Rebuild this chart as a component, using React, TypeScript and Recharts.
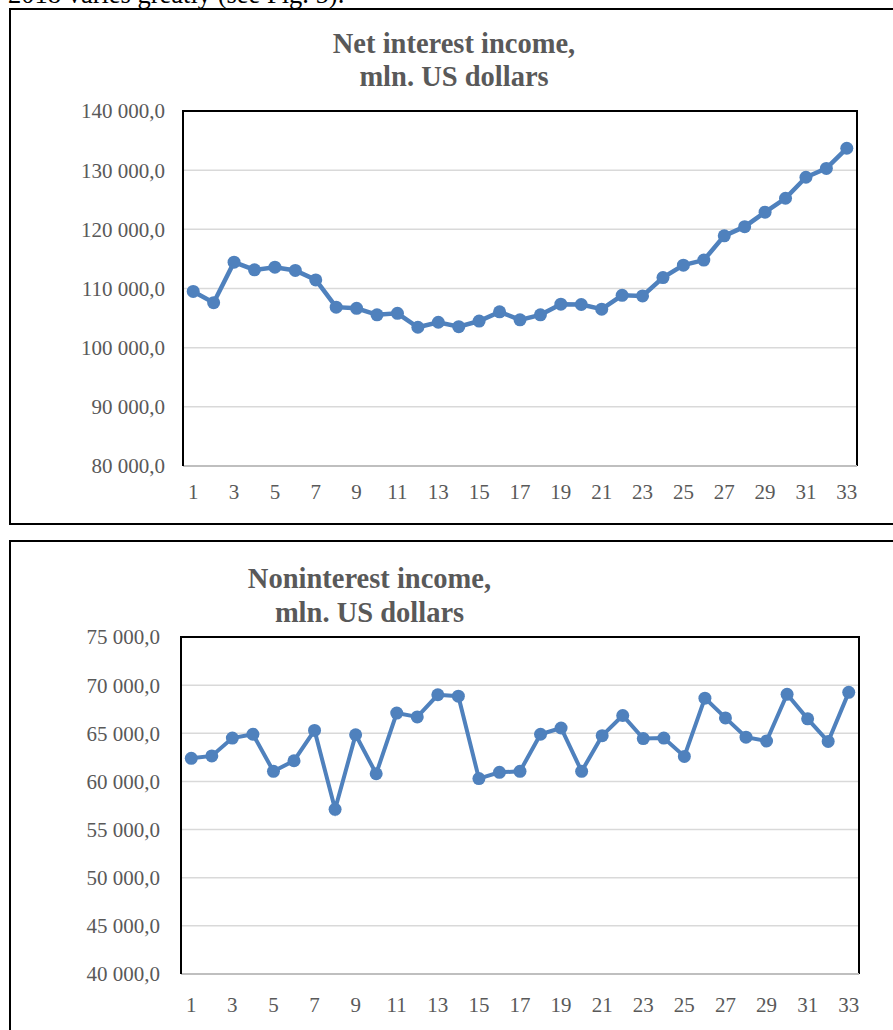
import { LineChart, Line, XAxis, YAxis, CartesianGrid, ReferenceArea } from 'recharts'

// quarter index on the x axis
const periods = [1, 2, 3, 4, 5, 6, 7, 8, 9, 10, 11, 12, 13, 14, 15, 16, 17, 18, 19, 20, 21, 22, 23, 24, 25, 26, 27, 28, 29, 30, 31, 32, 33]
const periodTicks = [1, 3, 5, 7, 9, 11, 13, 15, 17, 19, 21, 23, 25, 27, 29, 31, 33]

// mln. US dollars
const netInterest = [
  109500, 107600, 114450, 113150, 113600, 113050, 111450, 106850, 106650, 105550, 105800,
  103450, 104300, 103550, 104500, 106050, 104700, 105550, 107350, 107300, 106500, 108850,
  108750, 111850, 113950, 114800, 118900, 120450, 122900, 125250, 128800, 130300, 133700,
]
const nonInterest = [
  62400, 62650, 64500, 64900, 61050, 62150, 65300, 57100, 64850, 60800, 67100,
  66700, 69000, 68850, 60300, 60950, 61050, 64900, 65550, 61050, 64750, 66850,
  64450, 64500, 62600, 68650, 66600, 64600, 64200, 69050, 66500, 64150, 69250,
]

const netTicks = [80000, 90000, 100000, 110000, 120000, 130000, 140000]
const nonTicks = [40000, 45000, 50000, 55000, 60000, 65000, 70000, 75000]

const serif = '"Liberation Serif", "Times New Roman", serif'
const blue = '#4f81bd'
const grey = '#595959'

const fmt = (v: number) => String(v).replace(/\B(?=(\d{3})+(?!\d))/g, ' ') + ',0'

function Panel({
  values, ticks, top, height, margin, yWidth, yGap, xGap, lineWidth,
}: {
  values: number[]; ticks: number[]; top: number; height: number
  margin: { top: number; right: number; bottom: number; left: number }
  yWidth: number; yGap: number; xGap: number; lineWidth: number
}) {
  const data = periods.map((n, i) => ({ n, v: values[i] }))
  const lo = ticks[0]
  const hi = ticks[ticks.length - 1]
  // categories sit between half-step edges, like Excel's "between tick marks"
  const xLo = periods[0] - 0.5
  const xHi = periods[periods.length - 1] + 0.5
  const tickStyle = { fill: grey, fontSize: 21, fontFamily: serif }
  // plot box size, used to leave the bottom edge of the frame undrawn
  const w = 893 - margin.left - margin.right - yWidth
  const h = height - margin.top - margin.bottom - 40
  return (
    <div style={{ position: 'absolute', left: 0, top }}>
      <LineChart width={893} height={height} data={data} margin={margin}>
        <CartesianGrid horizontal vertical={false} stroke="#d9d9d9" strokeWidth={1.5} />
        <XAxis
          dataKey="n"
          type="number"
          domain={[xLo, xHi]}
          ticks={periodTicks}
          interval={0}
          tickLine={false}
          axisLine={{ stroke: '#bfbfbf', strokeWidth: 2 }}
          tick={tickStyle}
          tickMargin={xGap}
          height={40}
        />
        <YAxis
          domain={[lo, hi]}
          ticks={ticks}
          interval={0}
          tickFormatter={fmt}
          tickLine={false}
          axisLine={{ stroke: '#000', strokeWidth: 2 }}
          tick={tickStyle}
          tickMargin={yGap}
          width={yWidth}
        />
        <ReferenceArea
          x1={xLo}
          x2={xHi}
          y1={lo}
          y2={hi}
          fill="none"
          fillOpacity={0}
          stroke="#000"
          strokeWidth={2}
          strokeDasharray={`${w + h} ${w} ${h}`}
        />
        <Line
          type="linear"
          dataKey="v"
          stroke={blue}
          strokeWidth={lineWidth}
          dot={{ r: 6.5, fill: blue, stroke: blue, strokeWidth: 0 }}
          isAnimationActive={false}
        />
      </LineChart>
    </div>
  )
}

export default function App() {
  const titleStyle = { fontFamily: serif, fontWeight: 700, fontSize: 28.5, fill: grey }
  return (
    <div style={{ position: 'absolute', left: 0, top: 0, width: 893, height: 1030, overflow: 'hidden', background: '#fff' }}>
      <div style={{ position: 'absolute', left: 9, top: 8, width: 900, height: 517, border: '2px solid #000', boxSizing: 'border-box' }} />
      <div style={{ position: 'absolute', left: 9, top: 540, width: 900, height: 600, border: '2px solid #000', boxSizing: 'border-box' }} />
      <svg width={893} height={1030} style={{ position: 'absolute', left: 0, top: 0 }}>
        <text x={8} y={3} fontFamily={serif} fontSize={26.5} fill="#000">2018 varies greatly (see Fig. 5).</text>
        <text x={454} y={53} textAnchor="middle" style={titleStyle}>Net interest income,</text>
        <text x={454} y={86} textAnchor="middle" style={titleStyle}>mln. US dollars</text>
        <text x={369.5} y={588} textAnchor="middle" style={titleStyle}>Noninterest income,</text>
        <text x={369.5} y={622} textAnchor="middle" style={titleStyle}>mln. US dollars</text>
      </svg>
      <Panel
        values={netInterest} ticks={netTicks} top={0} height={525}
        margin={{ top: 111, right: 36, bottom: 19, left: 0 }}
        yWidth={183} yGap={12} xGap={12} lineWidth={4.5}
      />
      <Panel
        values={nonInterest} ticks={nonTicks} top={530} height={500}
        margin={{ top: 107, right: 34, bottom: 16, left: 0 }}
        yWidth={181} yGap={15} xGap={17} lineWidth={4}
      />
    </div>
  )
}
